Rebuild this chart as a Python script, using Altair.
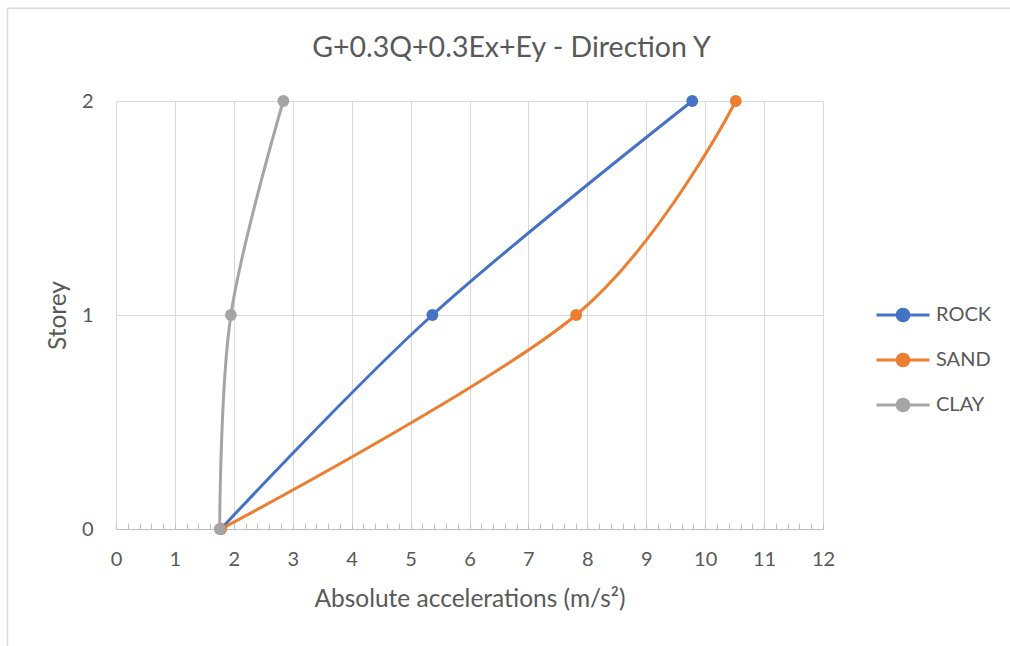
import altair as alt
import pandas as pd

# Storey levels and peak absolute accelerations (m/s²) per soil type
storeys = [0, 1, 2]
rock = [1.78, 5.37, 9.78]
sand = [1.78, 7.81, 10.52]
clay = [1.76, 1.95, 2.84]

series_names = ["ROCK", "SAND", "CLAY"]
series_colors = ["#4472C4", "#ED7D31", "#A5A5A5"]

x_ticks = list(range(0, 13))
y_ticks = [0, 1, 2]
minor_x_ticks = [round(i * 0.2, 1) for i in range(61)]

rows = []
for name, values in zip(series_names, [rock, sand, clay]):
    for s, v in zip(storeys, values):
        rows.append({"soil": name, "storey": s, "accel": v})
df = pd.DataFrame(rows)

FONT = "Lato"
TEXT = "#595959"
GRID = "#D9D9D9"
AXIS = "#BFBFBF"

x_scale = alt.Scale(domain=[x_ticks[0], x_ticks[-1]], nice=False, zero=False)
y_scale = alt.Scale(domain=[y_ticks[0], y_ticks[-1]], nice=False, zero=False)
color_scale = alt.Scale(domain=series_names, range=series_colors)


def ring(r):
    k = round(r * 0.5523, 4)
    return (
        f"M{-r},0C{-r},{-k},{-k},{-r},0,{-r}"
        f"C{k},{-r},{r},{-k},{r},0"
        f"C{r},{k},{k},{r},0,{r}"
        f"C{-k},{r},{-r},{k},{-r},0Z"
    )


# line-with-marker legend glyph: a stroke plus stacked rings forming a dot
legend_symbol = "M-1,0L1,0" + ring(0.22) + ring(0.13) + ring(0.05)

legend = alt.Legend(
    title=None,
    orient="none",
    legendX=759,
    legendY=204,
    symbolType=legend_symbol,
    symbolSize=2809,
    symbolStrokeWidth=3,
    labelFont=FONT,
    labelFontSize=20,
    labelColor=TEXT,
    labelOffset=5,
    rowPadding=25,
    clipHeight=20,
)

x_axis = alt.Axis(
    values=x_ticks,
    format="d",
    orient="bottom",
    title="Absolute accelerations (m/s²)",
    grid=True,
    gridColor=GRID,
    domain=True,
    domainColor=AXIS,
    domainWidth=1.2,
    ticks=False,
    tickSize=0,
    labelFlush=False,
    labelPadding=20,
    titlePadding=18,
)
y_axis = alt.Axis(
    tickCount=len(y_ticks) - 1,
    format="d",
    title="Storey",
    grid=True,
    gridColor=GRID,
    domain=False,
    ticks=False,
    tickSize=0,
    labelFlush=False,
    labelPadding=23,
    titlePadding=11,
)

series = alt.Chart(df).mark_line(
    interpolate="cardinal",
    strokeWidth=3,
    strokeCap="round",
    point=alt.OverlayMarkDef(filled=True, size=140, opacity=1),
).encode(
    x=alt.X("accel:Q", scale=x_scale, axis=x_axis),
    y=alt.Y("storey:Q", scale=y_scale, axis=y_axis),
    color=alt.Color("soil:N", scale=color_scale, legend=legend),
    order=alt.Order("storey:Q"),
)

# small inward minor ticks along the bottom axis
minor = alt.Chart(pd.DataFrame({"t": minor_x_ticks})).mark_point(opacity=0).encode(
    x=alt.X(
        "t:Q",
        scale=x_scale,
        axis=alt.Axis(
            values=minor_x_ticks,
            orient="bottom",
            offset=-6,
            tickSize=6,
            tickColor=AXIS,
            tickWidth=1,
            labels=False,
            domain=False,
            grid=False,
            title=None,
        ),
    )
)

# thin outer border of the chart area
frame = alt.Chart(pd.DataFrame({"k": [0]})).mark_rect(
    fillOpacity=0, stroke=GRID, strokeWidth=1.5
).encode(
    x=alt.value(-108.5), x2=alt.value(904), y=alt.value(-92.7), y2=alt.value(560)
)

chart = (
    alt.layer(frame, minor, series)
    .resolve_axis(x="independent")
    .properties(
        width=707,
        height=428,
        autosize="none",
        background="white",
        padding={"left": 116, "top": 101, "right": 187, "bottom": 117},
        title=alt.TitleParams(
            "G+0.3Q+0.3Ex+Ey - Direction Y",
            font=FONT,
            fontSize=28.5,
            fontWeight="normal",
            color=TEXT,
            anchor="middle",
            baseline="alphabetic",
            offset=0,
            dy=78,
            dx=42,
        ),
    )
    .configure_view(stroke=None)
    .configure_axis(
        labelFont=FONT,
        labelFontSize=20,
        labelColor=TEXT,
        titleFont=FONT,
        titleFontSize=24.5,
        titleFontWeight="normal",
        titleColor=TEXT,
    )
)

chart.save("out.html", embed_options={"renderer": "svg", "actions": False})
